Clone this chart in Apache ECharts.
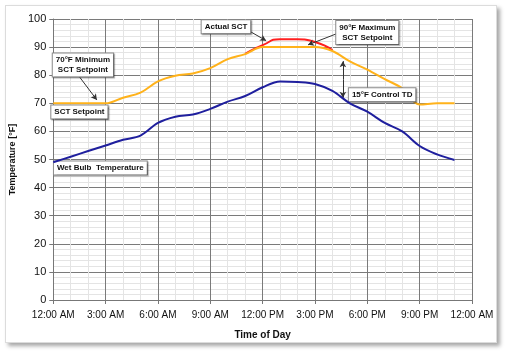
<!DOCTYPE html>
<html>
<head>
<meta charset="utf-8">
<script src="https://cdn.jsdelivr.net/npm/echarts@6/dist/echarts.min.js"></script>
<style>
  html, body { margin: 0; padding: 0; background: #fff; }
  #card {
    position: absolute; left: 5px; top: 5px; width: 490px; height: 336px;
    border: 1px solid #dcdcdc; background: #fff;
    box-shadow: 3px 3px 4px rgba(0,0,0,0.35);
  }
  #chart { position: absolute; left: 0; top: 0; width: 508px; height: 353px; }
</style>
</head>
<body>
<div id="card"></div>
<div id="chart"></div>
<script>
// hours of the day (0 = 12:00 AM)
const hours = [0,1,2,3,4,5,6,7,8,9,10,11,12,13,14,15,16,17,18,19,20,21,22,23];
const wetBulb = [49,51,53,55,57,58.5,63,65.2,66,68,70.6,72.6,75.7,77.8,77.6,76.9,74.4,70,67,63,60,54.8,51.8,49.8];
const sctSetpoint = [70,70,70,70,72,73.8,77.8,79.8,80.6,82.5,85.7,87.5,90,90,90,90,88.6,84.9,82,78.6,75.3,69.6,70,70];
// actual SCT only where it rises above the 90F cap
const actualHours = [11,12,13,14,15,16];
const actualSct = [87.6,90.7,92.8,92.8,91.8,88.9];
const timeLabels = ['12:00 AM','3:00 AM','6:00 AM','9:00 AM','12:00 PM','3:00 PM','6:00 PM','9:00 PM','12:00 AM'];

const font = 'Liberation Sans, Arial, sans-serif';

function pairs(xs, ys) {
    return xs.map((x, i) => [x, ys[i]]);
}

function note(text, coord) {
    return {
        coord: coord,
        value: text,
        label: { formatter: text }
    };
}

const chart = echarts.init(document.getElementById('chart'));

const option = {
    animation: false,
    backgroundColor: 'transparent',
    textStyle: { fontFamily: font },
    grid: { left: 53, right: 36, top: 19, bottom: 53 },
    xAxis: {
        type: 'value',
        min: 0, max: 24, interval: 3,
        name: 'Time of Day',
        nameLocation: 'middle',
        nameGap: 30,
        nameTextStyle: { fontFamily: font, fontWeight: 'bold', fontSize: 10, color: '#111' },
        axisLine: { lineStyle: { color: '#777', width: 1 } },
        axisTick: { show: true, length: 4, lineStyle: { color: '#777' } },
        axisLabel: {
            fontFamily: font, fontSize: 10, color: '#111', margin: 10,
            formatter: v => timeLabels[Math.round(v / 3)]
        },
        splitLine: { show: true, lineStyle: { color: '#7a7a7a', width: 1 } },
        minorTick: { show: false, splitNumber: 3 },
        minorSplitLine: { show: true, lineStyle: { color: '#e4e4e4', width: 1 } }
    },
    yAxis: {
        type: 'value',
        min: 0, max: 100, interval: 10,
        name: 'Temperature [°F]',
        nameLocation: 'middle',
        nameGap: 34,
        nameRotate: 90,
        nameTextStyle: { fontFamily: font, fontWeight: 'bold', fontSize: 9, color: '#111' },
        axisLine: { show: true, lineStyle: { color: '#777', width: 1 } },
        axisTick: { show: true, length: 4, lineStyle: { color: '#777' } },
        axisLabel: { fontFamily: font, fontSize: 11, color: '#111', margin: 7 },
        splitLine: { show: true, lineStyle: { color: '#7a7a7a', width: 1 } },
        minorTick: { show: false, splitNumber: 5 },
        minorSplitLine: { show: true, lineStyle: { color: '#e4e4e4', width: 1 } }
    },
    series: [
        {
            name: 'Actual SCT',
            type: 'line',
            data: pairs(actualHours, actualSct),
            smooth: 0.6,
            smoothMonotone: 'none',
            showSymbol: false,
            z: 3,
            lineStyle: { color: '#ff1f1f', width: 2 }
        },
        {
            name: 'SCT Setpoint',
            type: 'line',
            data: pairs(hours, sctSetpoint),
            smooth: 0.35,
            showSymbol: false,
            z: 4,
            lineStyle: { color: '#ffb21a', width: 2 }
        },
        {
            name: 'Wet Bulb Temperature',
            type: 'line',
            data: pairs(hours, wetBulb),
            smooth: 0.35,
            showSymbol: false,
            z: 5,
            lineStyle: { color: '#1f1f9e', width: 2 },
            markLine: {
                silent: true,
                symbol: ['none', 'arrow'],
                symbolSize: [5, 6],
                label: { show: false },
                lineStyle: { color: '#333', width: 1, type: 'solid' },
                data: [
                    [{ coord: [11.1, 96.2] }, { coord: [12.2, 92.3] }],
                    [{ coord: [16.3, 94.9] }, { coord: [14.6, 90.8] }],
                    [{ coord: [1.43, 80] }, { coord: [2.5, 71.2] }],
                    [{ coord: [16.6, 78.5] }, { coord: [16.6, 72] }],
                    [{ coord: [16.6, 78.5] }, { coord: [16.6, 85] }]
                ]
            },
            markPoint: {
                silent: true,
                symbol: 'rect',
                symbolSize: [1, 1],
                itemStyle: { color: 'rgba(0,0,0,0)' },
                label: {
                    show: true,
                    position: 'inside',
                    fontFamily: font,
                    fontSize: 8,
                    fontWeight: 'bold',
                    color: '#111',
                    lineHeight: 10,
                    align: 'center',
                    backgroundColor: '#fff',
                    borderColor: '#8a8a8a',
                    borderWidth: 1,
                    padding: [2, 3, 1, 3],
                    shadowColor: 'rgba(0,0,0,0.3)',
                    shadowOffsetX: 1,
                    shadowOffsetY: 1,
                    shadowBlur: 1
                },
                data: [
                    note('Actual SCT', [9.9, 97.2]),
                    note('90°F Maximum\nSCT Setpoint', [18.0, 95.2]),
                    note('70°F Minimum\nSCT Setpoint', [1.7, 83.6]),
                    note('SCT Setpoint', [1.5, 66.9]),
                    note('Wet Bulb  Temperature', [2.7, 47]),
                    note('15°F Control TD', [18.85, 73])
                ]
            }
        }
    ]
};

chart.setOption(option);
</script>
</body>
</html>
